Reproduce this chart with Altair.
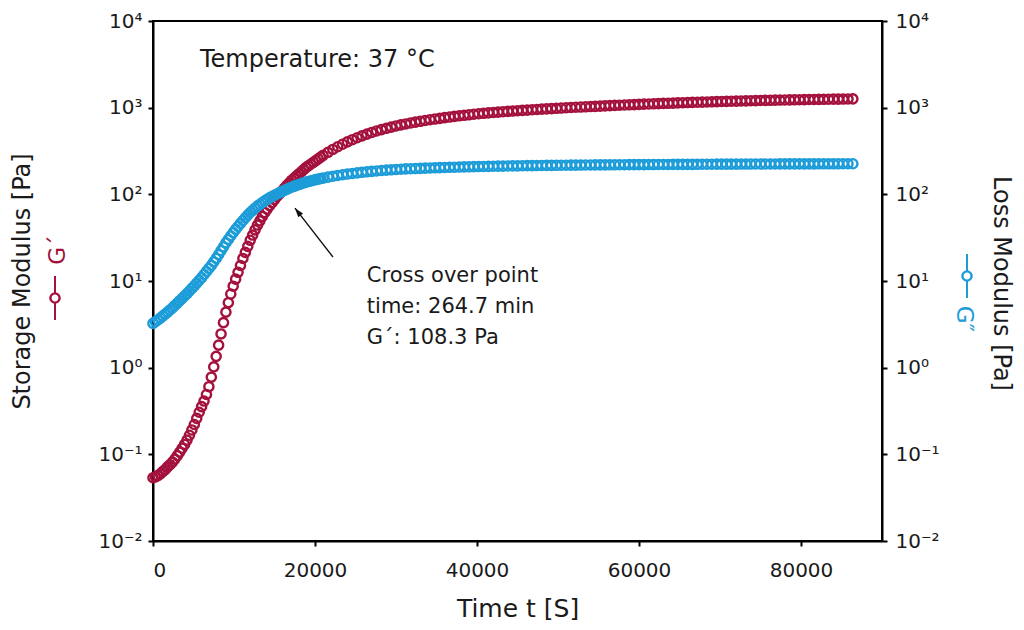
import altair as alt
import pandas as pd

# ---- data (time in s, moduli in Pa) ----
# sampled every 300 s up to 20700 s, every 600 s afterwards
time_s = [
    0, 300, 600, 900, 1200, 1500, 1800, 2100, 2400, 2700,
    3000, 3300, 3600, 3900, 4200, 4500, 4800, 5100, 5400, 5700,
    6000, 6300, 6600, 6900, 7200, 7500, 7800, 8100, 8400, 8700,
    9000, 9300, 9600, 9900, 10200, 10500, 10800, 11100, 11400, 11700,
    12000, 12300, 12600, 12900, 13200, 13500, 13800, 14100, 14400, 14700,
    15000, 15300, 15600, 15900, 16200, 16500, 16800, 17100, 17400, 17700,
    18000, 18300, 18600, 18900, 19200, 19500, 19800, 20100, 20400, 20700,
    21000, 21600, 22200, 22800, 23400, 24000, 24600, 25200, 25800, 26400,
    27000, 27600, 28200, 28800, 29400, 30000, 30600, 31200, 31800, 32400,
    33000, 33600, 34200, 34800, 35400, 36000, 36600, 37200, 37800, 38400,
    39000, 39600, 40200, 40800, 41400, 42000, 42600, 43200, 43800, 44400,
    45000, 45600, 46200, 46800, 47400, 48000, 48600, 49200, 49800, 50400,
    51000, 51600, 52200, 52800, 53400, 54000, 54600, 55200, 55800, 56400,
    57000, 57600, 58200, 58800, 59400, 60000, 60600, 61200, 61800, 62400,
    63000, 63600, 64200, 64800, 65400, 66000, 66600, 67200, 67800, 68400,
    69000, 69600, 70200, 70800, 71400, 72000, 72600, 73200, 73800, 74400,
    75000, 75600, 76200, 76800, 77400, 78000, 78600, 79200, 79800, 80400,
    81000, 81600, 82200, 82800, 83400, 84000, 84600, 85200, 85800, 86400,
]

storage_G1 = [
    0.0537, 0.0550, 0.0569, 0.0596, 0.0631, 0.0668, 0.0716, 0.0759, 0.0813, 0.0881,
    0.0966, 0.106, 0.1175, 0.130, 0.146, 0.166, 0.191, 0.221, 0.260, 0.306,
    0.355, 0.412, 0.490, 0.603, 0.776, 1.02, 1.35, 1.82, 2.45, 3.31,
    4.37, 5.62, 7.08, 8.71, 10.5, 12.6, 15.1, 18.2, 21.4, 25.1,
    29.5, 33.9, 38.9, 44.2, 49.5, 55.6, 61.7, 67.6, 74.1, 80.4,
    87.1, 94.4, 101.2, 108.4, 117.5, 125.9, 134.9, 144.5, 153.1, 162.2,
    171.8, 182.0, 192.8, 204.2, 213.8, 223.9, 234.4, 245.5, 257.0, 269.2,
    281.8, 305.5, 329.6, 354.0, 378.4, 402.7, 426.6, 449.8, 473.2, 495.5,
    517.6, 538.3, 558.5, 578.1, 597.0, 615.2, 632.4, 648.6, 665.3, 680.8,
    696.6, 711.2, 726.1, 739.6, 753.4, 767.4, 779.8, 792.5, 805.4, 816.6,
    827.9, 839.5, 851.1, 861.0, 871.0, 881.0, 889, 898, 906, 914,
    922.6, 930, 938, 946, 954, 961.6, 969, 976, 983, 990.5,
    997.7, 1004, 1011, 1017, 1024, 1030, 1036, 1043, 1049, 1056,
    1062, 1068, 1074, 1079, 1085, 1091, 1097, 1102, 1108, 1113,
    1119, 1124, 1130, 1135, 1141, 1146, 1151, 1155, 1160, 1164,
    1169, 1173, 1178, 1182, 1187, 1191, 1195, 1199, 1203, 1207,
    1211, 1214, 1217, 1221, 1224, 1227, 1230, 1233, 1236, 1239,
    1242, 1244, 1246, 1249, 1251, 1253, 1255, 1257, 1260, 1262,
]

loss_G2 = [
    3.24, 3.39, 3.55, 3.74, 3.94, 4.15, 4.37, 4.63, 4.90, 5.22,
    5.56, 5.92, 6.31, 6.72, 7.16, 7.67, 8.22, 8.81, 9.44, 10.17,
    10.96, 11.88, 12.88, 13.96, 15.14, 16.6, 18.2, 20.2, 22.4, 24.8,
    27.5, 30.2, 33.1, 36.1, 39.4, 42.7, 46.2, 49.9, 53.7, 57.6,
    61.7, 65.4, 69.2, 73.0, 76.7, 80.4, 84.1, 87.7, 91.2, 94.5,
    97.7, 101.0, 104.2, 107.6, 110.9, 114.2, 117.5, 120.7, 123.9, 126.8,
    129.7, 132.6, 135.5, 138.1, 140.6, 143.1, 145.5, 147.8, 150.0, 152.1,
    154.2, 158.1, 161.8, 165.2, 168.3, 171.4, 174.2, 177.0, 179.5, 182.0,
    184.1, 186.2, 188.4, 190.1, 191.9, 193.6, 195, 196.5, 197.5, 198.5,
    199.5, 200.5, 201.5, 202.4, 203.3, 204.2, 205, 205.7, 206.5, 207.2,
    208, 208.6, 209.2, 209.8, 210.4, 210.9, 211.4, 211.9, 212.4, 212.9,
    213.3, 213.7, 214.1, 214.5, 214.9, 215.3, 215.6, 215.9, 216.2, 216.5,
    216.8, 217.1, 217.4, 217.7, 218.0, 218.3, 218.5, 218.7, 218.9, 219.1,
    219.3, 219.5, 219.7, 219.9, 220.1, 220.3, 220.45, 220.6, 220.75, 220.9,
    221.05, 221.2, 221.35, 221.5, 221.65, 221.8, 222.0, 222.1, 222.3, 222.4,
    222.6, 222.8, 222.9, 223.1, 223.2, 223.4, 223.5, 223.6, 223.7, 223.8,
    223.9, 224.0, 224.1, 224.2, 224.3, 224.4, 224.5, 224.6, 224.7, 224.8,
    224.85, 224.9, 225.0, 225.05, 225.1, 225.15, 225.2, 225.3, 225.35, 225.4,
]

x_ticks = [0, 20000, 40000, 60000, 80000]
y_ticks = [0.01, 0.1, 1, 10, 100, 1000, 10000]

temperature_label = "Temperature: 37 °C"
cross_label = "Cross over point\ntime: 264.7 min\nG´: 108.3 Pa"

df = pd.DataFrame({"t": time_s, "G1": storage_G1, "G2": loss_G2})

RED = "#a3113c"
BLUE = "#1c9cd8"
INK = "#1a1a1a"
FONT = "DejaVu Sans"

label_expr = (
    "datum.value >= 9999 ? '10⁴' : datum.value >= 999 ? '10³' : "
    "datum.value >= 99 ? '10²' : datum.value >= 9 ? '10¹' : "
    "datum.value >= 0.9 ? '10⁰' : datum.value >= 0.09 ? '10⁻¹' : '10⁻²'"
)

yscale = alt.Scale(type="log", domain=[0.01, 10000], nice=False)
xscale = alt.Scale(domain=[0, 90000], nice=False, zero=False)

x_enc = alt.X(
    "t:Q", scale=xscale,
    axis=alt.Axis(values=x_ticks, format="d", title="Time t [S]",
                  labelPadding=14, titleY=75, titleBaseline="alphabetic",
                  titleFontSize=25),
)

left_axis = alt.Axis(
    values=y_ticks, labelExpr=label_expr, title="Storage Modulus [Pa]",
    titleAngle=270, titleX=-124, titleY=260, titleBaseline="alphabetic",
    titleAlign="center", labelPadding=6, titleFontSize=24,
)
right_axis = alt.Axis(
    values=y_ticks, labelExpr=label_expr, title="Loss Modulus [Pa]",
    orient="right", titleAngle=90, titleX=111, titleY=262,
    titleBaseline="alphabetic", titleAlign="center", labelPadding=8,
    titleFontSize=24,
)

base = alt.Chart(df)

red_pts = base.mark_point(
    shape="circle", filled=False, color=RED, size=85, strokeWidth=2.4, opacity=1
).encode(x=x_enc, y=alt.Y("G1:Q", scale=yscale, axis=left_axis))

blue_pts = base.mark_point(
    shape="circle", filled=False, color=BLUE, size=85, strokeWidth=2.4, opacity=1
).encode(x=x_enc, y=alt.Y("G2:Q", scale=yscale, axis=right_axis))

one = alt.Chart(pd.DataFrame({"k": [0]}))

temp_text = one.mark_text(
    align="left", baseline="middle", font=FONT, fontSize=24, color=INK
).encode(
    x=alt.datum(5800, type="quantitative", scale=xscale),
    y=alt.datum(3550, type="quantitative", scale=yscale),
    text=alt.value(temperature_label),
)

cross_text = one.mark_text(
    align="left", baseline="middle", font=FONT, fontSize=21, color=INK,
    lineBreak="\n", lineHeight=31,
).encode(
    x=alt.datum(26400, type="quantitative", scale=xscale),
    y=alt.datum(11.4, type="quantitative", scale=yscale),
    text=alt.value(cross_label),
)

arrow_df = pd.DataFrame({"t0": [22220], "g0": [18.9], "t1": [17530], "g1": [69.2]})
arrow_line = alt.Chart(arrow_df).mark_rule(color="#111111", strokeWidth=1.4).encode(
    x=alt.X("t0:Q", scale=xscale), y=alt.Y("g0:Q", scale=yscale),
    x2="t1:Q", y2="g1:Q",
)
arrow_head = alt.Chart(arrow_df).mark_point(
    shape="M0,0L-0.38,1.15L0.38,1.15Z", filled=True, color="#111111",
    size=256, angle=322, opacity=1, strokeWidth=0,
).encode(x=alt.X("t1:Q", scale=xscale), y=alt.Y("g1:Q", scale=yscale))

# legend glyphs beside the axis titles
lg_left_rule = one.mark_rule(color=RED, strokeWidth=2).encode(
    x=alt.value(-98), y=alt.value(255), y2=alt.value(299))
lg_left_pt = one.mark_point(shape="circle", filled=True, fill="white", color=RED,
                            stroke=RED, size=85, strokeWidth=2.4, opacity=1).encode(
    x=alt.value(-98), y=alt.value(277))
lg_left_txt = one.mark_text(angle=270, align="center", baseline="middle",
                            font=FONT, fontSize=23, color=RED).encode(
    x=alt.value(-95), y=alt.value(229), text=alt.value("G´"))

lg_right_rule = one.mark_rule(color=BLUE, strokeWidth=2).encode(
    x=alt.value(814), y=alt.value(233), y2=alt.value(277))
lg_right_pt = one.mark_point(shape="circle", filled=True, fill="white", color=BLUE,
                             stroke=BLUE, size=85, strokeWidth=2.4, opacity=1).encode(
    x=alt.value(814), y=alt.value(255))
lg_right_txt = one.mark_text(angle=90, align="center", baseline="middle",
                             font=FONT, fontSize=23, color=BLUE).encode(
    x=alt.value(811), y=alt.value(298), text=alt.value("G″"))

left_group = alt.layer(red_pts, temp_text, cross_text, arrow_line, arrow_head)

chart = alt.layer(
    left_group, blue_pts,
    lg_left_rule, lg_left_pt, lg_left_txt,
    lg_right_rule, lg_right_pt, lg_right_txt,
).resolve_scale(y="independent").properties(
    width=729, height=520,
    autosize=alt.AutoSizeParams(type="none"),
    padding={"left": 145, "top": 13, "right": 134, "bottom": 81},
    background="white",
).configure_view(stroke="black", strokeWidth=2).configure_axis(
    grid=False, domainColor="black", domainWidth=2, tickColor="black",
    tickWidth=2, tickSize=5, labelFont=FONT, labelFontSize=20, labelColor=INK,
    titleFont=FONT, titleFontSize=22, titleFontWeight="normal", titleColor=INK,
)

chart.save("out.html", embed_options={"renderer": "svg", "actions": False})
